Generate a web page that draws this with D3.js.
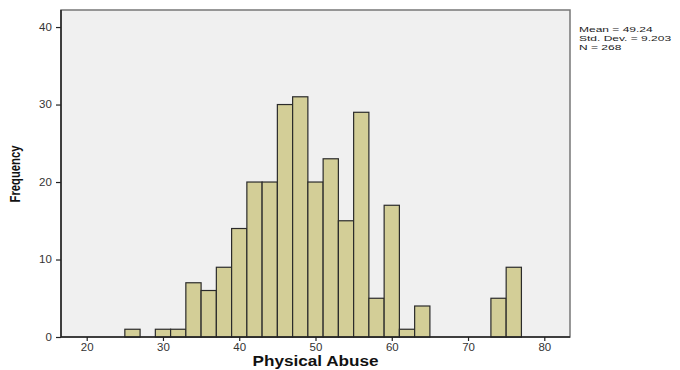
<!DOCTYPE html>
<html>
<head>
<meta charset="utf-8">
<script src="https://cdn.jsdelivr.net/npm/d3@7"></script>
<style>
  body { margin: 0; background: #fff; }
  text { font-family: "Liberation Sans", Arial, sans-serif; }
</style>
</head>
<body>
<div class="container"></div>
<script>
var WIDTH = 680, HEIGHT = 370;
var MARGIN = {top: 10, left: 61, right: 110, bottom: 33};
var INNER_WIDTH = WIDTH - MARGIN.left - MARGIN.right;
var INNER_HEIGHT = HEIGHT - MARGIN.top - MARGIN.bottom;

// bin start values (width 2) and counts
var binStarts = [25, 27, 29, 31, 33, 35, 37, 39, 41, 43, 45, 47, 49, 51, 53, 55, 57, 59, 61, 63, 65, 67, 69, 71, 73, 75];
var counts    = [1, 0, 1, 1, 7, 6, 9, 14, 20, 20, 30, 31, 20, 23, 15, 29, 5, 17, 1, 4, 0, 0, 0, 0, 5, 9];
var binWidth = 2;
var xTicks = [20, 30, 40, 50, 60, 70, 80];
var yTicks = [0, 10, 20, 30, 40];
var stats = ["Mean = 49.24", "Std. Dev. = 9.203", "N = 268"];

var bins = binStarts.map(function(d, i){ return {x0: d, x1: d + binWidth, n: counts[i]}; });

var svg = d3.select('.container').append('svg')
    .attr('width', WIDTH)
    .attr('height', HEIGHT);

var xScale = d3.scaleLinear().domain([16.63, 83.37]).range([0, INNER_WIDTH]);
var yScale = d3.scaleLinear().domain([0, 42.2]).range([INNER_HEIGHT, 0]);

var g = svg.append('g')
    .attr('transform', 'translate(' + MARGIN.left + ',' + MARGIN.top + ')');

g.append('rect')
    .attr('width', INNER_WIDTH)
    .attr('height', INNER_HEIGHT)
    .attr('fill', '#f0f0f0')
    .attr('stroke', '#777')
    .attr('stroke-width', 1.5);

g.selectAll('rect.bar').data(bins.filter(function(d){ return d.n > 0; }))
    .enter()
    .append('rect')
    .classed('bar', true)
    .attr('x', function(d){ return xScale(d.x0); })
    .attr('y', function(d){ return yScale(d.n); })
    .attr('width', function(d){ return xScale(d.x1) - xScale(d.x0); })
    .attr('height', function(d){ return yScale(0) - yScale(d.n); })
    .attr('fill', '#d3ce97')
    .attr('stroke', '#2b2b2b')
    .attr('stroke-width', 1.2);

// left and bottom axis lines
g.append('line').attr('x1', 0).attr('x2', 0).attr('y1', 0).attr('y2', INNER_HEIGHT)
    .attr('stroke', '#222').attr('stroke-width', 1.5);
g.append('line').attr('x1', 0).attr('x2', INNER_WIDTH).attr('y1', INNER_HEIGHT).attr('y2', INNER_HEIGHT)
    .attr('stroke', '#222').attr('stroke-width', 1.5);

var xAxis = g.append('g')
    .attr('transform', 'translate(0,' + INNER_HEIGHT + ')')
    .call(d3.axisBottom(xScale).tickValues(xTicks).tickSize(4).tickPadding(3));
var yAxis = g.append('g')
    .call(d3.axisLeft(yScale).tickValues(yTicks).tickSize(5).tickPadding(3));

[xAxis, yAxis].forEach(function(a){
    a.select('.domain').remove();
    a.selectAll('line').attr('stroke', '#222').attr('stroke-width', 1.2);
    a.selectAll('text')
        .attr('fill', '#333')
        .style('font-size', '10px')
        .style('font-family', '"Liberation Sans", Arial, sans-serif')
        .attr('transform', 'scale(1.15,1)');
});

svg.append('text')
    .attr('x', MARGIN.left + xScale(50))
    .attr('y', 366)
    .attr('text-anchor', 'middle')
    .attr('textLength', 126)
    .attr('lengthAdjust', 'spacingAndGlyphs')
    .style('font-size', '14px')
    .style('font-weight', 'bold')
    .attr('fill', '#111')
    .text('Physical Abuse');

svg.append('text')
    .attr('transform', 'translate(20,174) rotate(-90)')
    .attr('text-anchor', 'middle')
    .attr('textLength', 57)
    .attr('lengthAdjust', 'spacingAndGlyphs')
    .style('font-size', '14px')
    .style('font-weight', 'bold')
    .attr('fill', '#111')
    .text('Frequency');

var statG = svg.append('g')
    .attr('transform', 'translate(579,0) scale(1.5,1)');
statG.selectAll('text.stat').data(stats)
    .enter()
    .append('text')
    .classed('stat', true)
    .attr('x', 0)
    .attr('y', function(d, i){ return 32 + i * 9; })
    .style('font-size', '8px')
    .attr('fill', '#222')
    .text(function(d){ return d; });
</script>
</body>
</html>
